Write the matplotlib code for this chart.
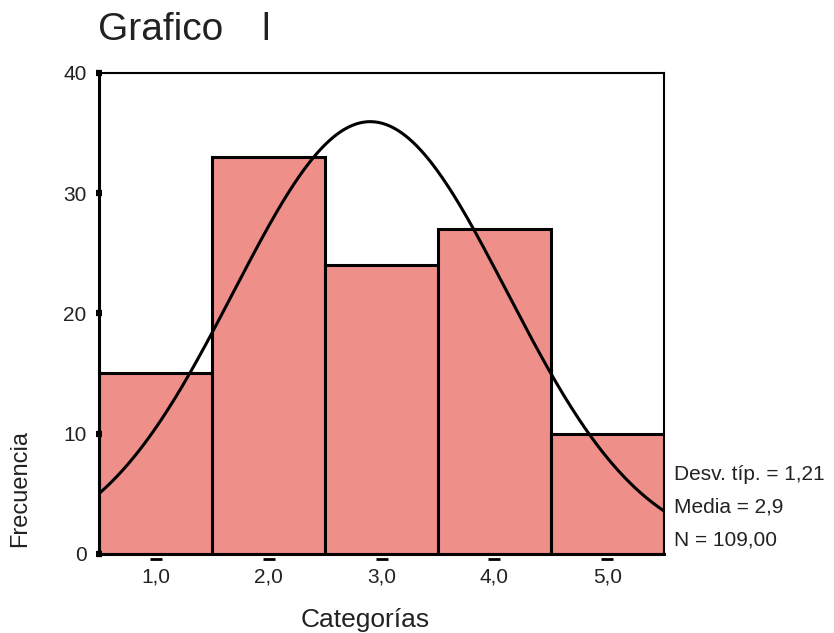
import matplotlib.pyplot as plt
import numpy as np

plt.rcParams['font.family'] = ['Liberation Sans', 'DejaVu Sans']
plt.rcParams['text.color'] = '#222222'
plt.rcParams['xtick.labelcolor'] = '#222222'
plt.rcParams['ytick.labelcolor'] = '#222222'

# histogram data
categorias = [1.0, 2.0, 3.0, 4.0, 5.0]
frecuencia = [15, 33, 24, 27, 10]
tick_labels = ['1,0', '2,0', '3,0', '4,0', '5,0']
media = 2.9
desv = 1.21
n_total = 109

fig = plt.figure(figsize=(8.34, 6.33), dpi=100)
ax = fig.add_axes([0.119, 0.125, 0.677, 0.76])

ax.bar(categorias, frecuencia, width=1.0, color='#ef8f8a', edgecolor='black', linewidth=2.2)

# fitted normal curve
xs = np.linspace(0.5, 5.5, 300)
ys = n_total * np.exp(-0.5 * ((xs - media) / desv) ** 2) / (desv * np.sqrt(2 * np.pi))
ax.plot(xs, ys, color='black', lw=2.2)

ax.set_xlim(0.5, 5.5)
ax.set_ylim(0, 40)
ax.set_yticks([0, 10, 20, 30, 40])
ax.set_xticks(categorias)
ax.set_xticklabels(tick_labels)
ax.tick_params(axis='y', length=4.5, width=4.5, direction='inout', labelsize=15, pad=7)
ax.tick_params(axis='x', length=0, labelsize=15, pad=10)
# little dashes just below the x axis
ax.plot(categorias, [-0.45] * len(categorias), ls='none', marker='_', ms=9, mew=2,
        color='black', clip_on=False)

for s in ['left', 'bottom']:
    ax.spines[s].set_linewidth(2.2)
for s in ['top', 'right']:
    ax.spines[s].set_linewidth(1.5)

fig.text(0.118, 0.952, 'Grafico', fontsize=28, va='center', ha='left')
fig.text(0.313, 0.952, 'l', fontsize=28, va='center', ha='left')
fig.text(0.024, 0.229, 'Frecuencia', rotation=90, fontsize=17, va='center', ha='center')
fig.text(0.438, 0.02, 'Categorías', fontsize=19, va='center', ha='center')

stats = ['Desv. típ. = 1,21', 'Media = 2,9', 'N = 109,00']
for i, t in enumerate(stats):
    fig.text(0.808, 0.250 - i * 0.0515, t, fontsize=15, va='center', ha='left')

fig.savefig('out.png', dpi=100)
